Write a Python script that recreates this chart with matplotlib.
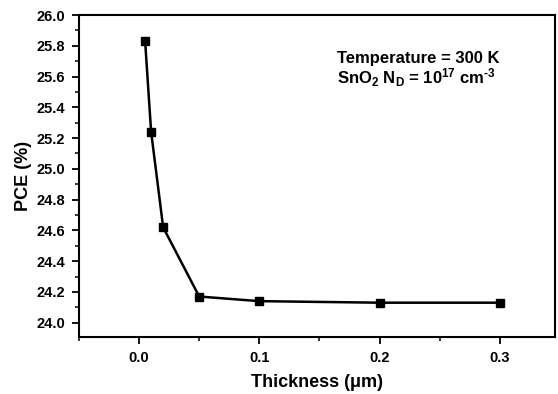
import matplotlib
matplotlib.use("Agg")
from matplotlib import pyplot as plt
from matplotlib.ticker import MultipleLocator

# data
thickness = [0.005, 0.01, 0.02, 0.05, 0.1, 0.2, 0.3]
pce = [25.83, 25.24, 24.62, 24.17, 24.14, 24.13, 24.13]

x_ticks = [0.0, 0.1, 0.2, 0.3]
y_ticks = [24.0, 24.2, 24.4, 24.6, 24.8, 25.0, 25.2, 25.4, 25.6, 25.8, 26.0]

plt.rcParams['font.family'] = ['Liberation Sans', 'DejaVu Sans']
plt.rcParams['font.weight'] = 'bold'
plt.rcParams['mathtext.fontset'] = 'custom'
plt.rcParams['mathtext.rm'] = 'Liberation Sans:bold'
plt.rcParams['mathtext.bf'] = 'Liberation Sans:bold'
plt.rcParams['mathtext.default'] = 'bf'

fig = plt.figure(figsize=(5.58, 3.94), dpi=100)
ax = fig.add_axes([0.1416, 0.1439, 0.8530, 0.8180])

ax.plot(thickness, pce, color='black', lw=1.8, marker='s', markersize=5.5)

ax.set_xlim(-0.05, 0.346)
ax.set_ylim(23.905, 26.0)
ax.set_xticks(x_ticks)
ax.set_xticklabels([f"{v:.1f}" for v in x_ticks])
ax.set_yticks(y_ticks)
ax.set_yticklabels([f"{v:.1f}" for v in y_ticks])
ax.xaxis.set_minor_locator(MultipleLocator(0.05))
ax.yaxis.set_minor_locator(MultipleLocator(0.1))

ax.tick_params(which='major', direction='out', length=5, width=1.3, labelsize=10.5, pad=5)
ax.tick_params(which='minor', direction='out', length=3, width=1.1)
for lab in ax.get_xticklabels() + ax.get_yticklabels():
    lab.set_fontweight('bold')
for s in ax.spines.values():
    s.set_linewidth(1.5)

ax.set_xlabel('Thickness (\u03bcm)', fontsize=13, fontweight='bold', labelpad=6)
ax.set_ylabel('PCE (%)', fontsize=13, fontweight='bold', labelpad=3)

ax.text(0.1645, 25.72, 'Temperature = 300 K', fontsize=12, fontweight='bold', va='center')
ax.text(0.1645, 25.59, r'SnO$_{2}$ N$_{D}$ = 10$^{17}$ cm$^{\text{-}3}$',
        fontsize=12, fontweight='bold', va='center')

fig.savefig('out.png', dpi=100)
